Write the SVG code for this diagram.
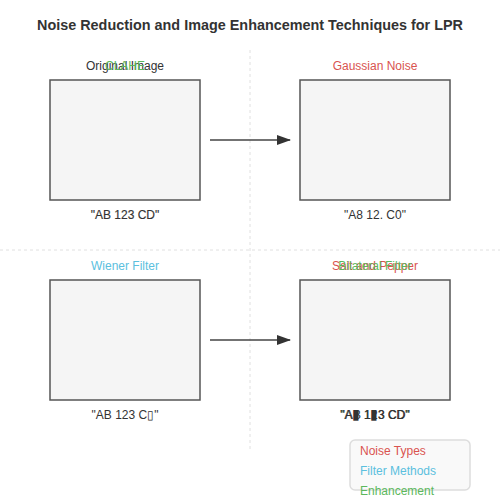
<svg xmlns="http://www.w3.org/2000/svg" width="500" height="500" viewBox="0 0 500 500">
<defs>
<style>
text{font-family:"Liberation Sans",Arial,sans-serif;font-size:12px}
.title{font-size:14.4px;font-weight:bold;fill:#333}
.lbl{fill:#333;text-anchor:middle}
.red{fill:#d9534f}
.blue{fill:#5bc0de}
.green{fill:#5cb85c}
.mid{text-anchor:middle}
.box{fill:#f5f5f5;stroke:#555;stroke-width:1.5}
.grid{stroke:#e0e0e0;stroke-width:1;stroke-dasharray:3,3;fill:none}
.arr{stroke:#444;stroke-width:1.5;fill:none}
.blk{font-size:14px}
</style>
<marker id="ah" markerWidth="14" markerHeight="10" refX="13" refY="5" orient="auto" markerUnits="userSpaceOnUse" viewBox="0 0 14 10">
<polygon points="0,0 14,5 0,10" fill="#333"/>
</marker>
</defs>
<rect width="500" height="500" fill="#fff"/>
<text class="title" x="250" y="30" text-anchor="middle">Noise Reduction and Image Enhancement Techniques for LPR</text>
<g id="grid">
<line class="grid" x1="250" y1="50" x2="250" y2="450"/>
<line class="grid" x1="0" y1="250" x2="500" y2="250"/>
</g>
<g id="original">
<text class="lbl" x="125" y="70">Original Image</text>
<text class="green mid" x="125" y="70">CLAHE</text>
<rect class="box" x="50" y="80" width="150" height="120"/>
<text class="lbl" x="125" y="219" stroke="#333" stroke-width="0.15">"AB 123 CD"</text>
</g>
<g id="gaussian">
<text class="red mid" x="375" y="70">Gaussian Noise</text>
<rect class="box" x="300" y="80" width="150" height="120"/>
<text class="lbl" x="375" y="219">"A8 12. C0"</text>
</g>
<g id="wiener">
<text class="blue mid" x="125" y="270">Wiener Filter</text>
<rect class="box" x="50" y="280" width="150" height="120"/>
<text class="lbl" x="125" y="419">"AB 123 C▯"</text>
</g>
<g id="saltpepper">
<text class="red mid" x="375" y="270">Salt and Pepper</text>
<text class="green mid" x="375" y="270">Bilateral Filter</text>
<rect class="box" x="300" y="280" width="150" height="120"/>
<text class="lbl" x="375" y="419">"AB 123 CD"</text>
<text class="lbl" x="375" y="419">"A<tspan class="blk">▮</tspan> 1<tspan class="blk">▮</tspan>3 CD"</text>
</g>
<g id="connectors">
<line class="arr" x1="210" y1="140" x2="290" y2="140" marker-end="url(#ah)"/>
<line class="arr" x1="210" y1="340" x2="290" y2="340" marker-end="url(#ah)"/>
</g>
<g id="legend">
<rect x="350" y="440" width="120" height="50" rx="5" fill="#f9f9f9" stroke="#ddd" stroke-width="1.5"/>
<text class="red" x="360" y="455">Noise Types</text>
<text class="blue" x="360" y="475">Filter Methods</text>
<text class="green" x="360" y="495">Enhancement</text>
</g>
</svg>
